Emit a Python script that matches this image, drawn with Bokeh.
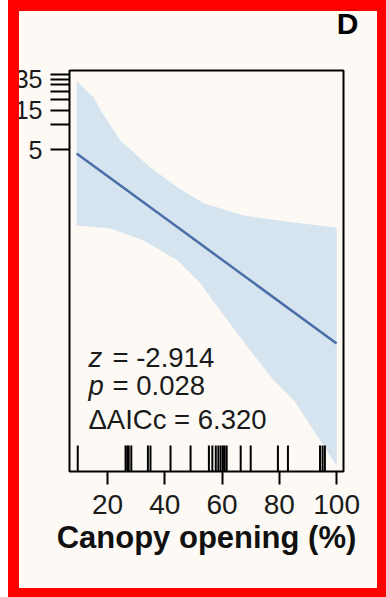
import math
from bokeh.plotting import figure
from bokeh.models import Range1d, FixedTicker, Label, LinearAxis
from bokeh.embed import file_html
from bokeh.resources import INLINE

# ---- data ----
canopy_fit = [9.2, 52.5, 100.0]
rate_fit = [4.52, 0.37, 0.0238]

ci_upper_x = [9.2, 13.4, 15.2, 17.6, 24.5, 35.0, 44.5, 53.6, 67.6, 85.1, 100.0]
ci_upper_y = [33.9, 24.0, 21.4, 14.8, 6.47, 3.07, 1.77, 1.14, 0.815, 0.671, 0.585]
ci_lower_x = [9.2, 21.0, 32.6, 44.5, 52.5, 58.5, 69.0, 78.1, 85.1, 100.0]
ci_lower_y = [0.618, 0.569, 0.409, 0.235, 0.125, 0.0643, 0.0213, 0.00855, 0.00492, 0.000819]

rug_x = [9.6, 26.3, 26.9, 27.4, 28.3, 34.1, 35.0, 42.0, 49.0, 55.4, 56.6, 57.8,
         58.7, 59.5, 60.3, 60.9, 61.6, 66.5, 70.0, 79.5, 83.0, 94.2, 95.1, 95.9]

x_ticks = [20, 40, 60, 80, 100]
y_ticks = [5, 10, 15, 20, 25, 30, 35, 40]
y_tick_labels = {5: "5", 10: "", 15: "15", 20: "", 25: "", 30: "", 35: "35", 40: ""}

stats_z = "-2.914"
stats_p = "0.028"
stats_aicc = "6.320"
panel_tag = "D"
x_title = "Canopy opening (%)"

# ---- layout ----
FONT = "Liberation Sans"
BG = "#fdfaf6"
W, H = 386, 597
X0, X1 = 6.72, 102.4
Y0, Y1 = 0.000693, 44.7
TAG_POS = 102.399   # horizontal anchor of the panel letter (frame's right edge)

p = figure(width=W, height=H, output_backend="svg", toolbar_location=None,
           y_axis_type="log", x_range=Range1d(X0, X1), y_range=Range1d(Y0, Y1),
           min_border_left=69, min_border_right=43, min_border_top=70,
           min_border_bottom=126)
# red picture frame drawn as an overlay on top of the canvas
p.stylesheets = [
    ":host::before { content: ''; position: absolute; left: 0; top: 0; width: 8px;"
    " height: 597px; background: #ffffff; z-index: 1000; pointer-events: none; }",
    ":host::after { content: ''; position: absolute; left: 8px; top: 0; width: 378px;"
    " height: 597px; box-sizing: border-box; border-style: solid; border-color: #ff0000;"
    " border-width: 11px 9px 9px 11px; z-index: 1001; pointer-events: none; }",
]
p.background_fill_color = BG
p.border_fill_color = BG
p.outline_line_color = "black"
p.outline_line_width = 2
p.xgrid.visible = False
p.ygrid.visible = False
p.title.text = ""

# panel letter, drawn as the single label of an undecorated top axis
tag_axis = LinearAxis(ticker=FixedTicker(ticks=[TAG_POS]),
                      major_label_overrides={TAG_POS: "\u00a0" + panel_tag})
tag_axis.axis_line_color = None
tag_axis.major_tick_line_color = None
tag_axis.major_tick_in = 0
tag_axis.major_tick_out = 0
tag_axis.minor_tick_line_color = None
tag_axis.major_label_standoff = 31
tag_axis.major_label_text_font = FONT
tag_axis.major_label_text_font_size = "30px"
tag_axis.major_label_text_font_style = "bold"
tag_axis.major_label_text_color = "#000000"
p.add_layout(tag_axis, "above")

# page-pixel helpers for annotation placement only (frame at page x 69..343, y 70..471)
def xd(px):
    return X0 + (px - 69) * (X1 - X0) / 274.0

def yd(py):
    l0, l1 = math.log10(Y0), math.log10(Y1)
    return 10 ** (l1 - (py - 70) * (l1 - l0) / 401.0)

# confidence band
band_x = ci_upper_x + ci_lower_x[::-1]
band_y = ci_upper_y + ci_lower_y[::-1]
p.patch(band_x, band_y, fill_color="#d6e4ef", line_color=None)

# fitted line
p.line(canopy_fit, rate_fit, line_color="#4a6fa8", line_width=2.5)

# rug
p.segment(x0=rug_x, y0=[Y0] * len(rug_x), x1=rug_x, y1=[yd(445)] * len(rug_x),
          line_color="black", line_width=2)

# axes
xa = p.below[0]
xa.ticker = FixedTicker(ticks=x_ticks)
xa.axis_line_color = None
xa.major_tick_in = 0
xa.major_tick_out = 13
xa.major_tick_line_width = 2
xa.minor_tick_line_color = None
xa.major_label_text_font = FONT
xa.major_label_text_font_size = "28px"
xa.major_label_text_color = "#1a1a1a"
xa.major_label_standoff = 10
xa.axis_label = x_title
xa.axis_label_text_font = FONT
xa.axis_label_text_font_size = "31px"
xa.axis_label_text_font_style = "bold"
xa.axis_label_text_color = "#111111"
xa.axis_label_standoff = 3

ya = p.yaxis[0]
ya.ticker = FixedTicker(ticks=y_ticks)
ya.major_label_overrides = y_tick_labels
ya.axis_line_color = None
ya.major_tick_in = 0
ya.major_tick_out = 19
ya.major_tick_line_width = 2
ya.minor_tick_line_color = None
ya.major_label_text_font = FONT
ya.major_label_text_font_size = "25px"
ya.major_label_text_color = "#1a1a1a"
ya.major_label_standoff = 8

# statistics text
def add_text(txt, px, py, style="normal", size="27.5px"):
    p.add_layout(Label(x=xd(px), y=yd(py), text=txt, text_font=FONT,
                       text_font_size=size, text_font_style=style,
                       text_color="#1a1a1a", text_align="left",
                       text_baseline="alphabetic"))

add_text("z", 88, 357, style="italic")
add_text("= " + stats_z, 112, 357)
add_text("p", 88, 385, style="italic")
add_text("= " + stats_p, 112, 385)
add_text("\u0394AICc = " + stats_aicc, 88, 419)

open("out.html", "w").write(file_html(p, INLINE))
